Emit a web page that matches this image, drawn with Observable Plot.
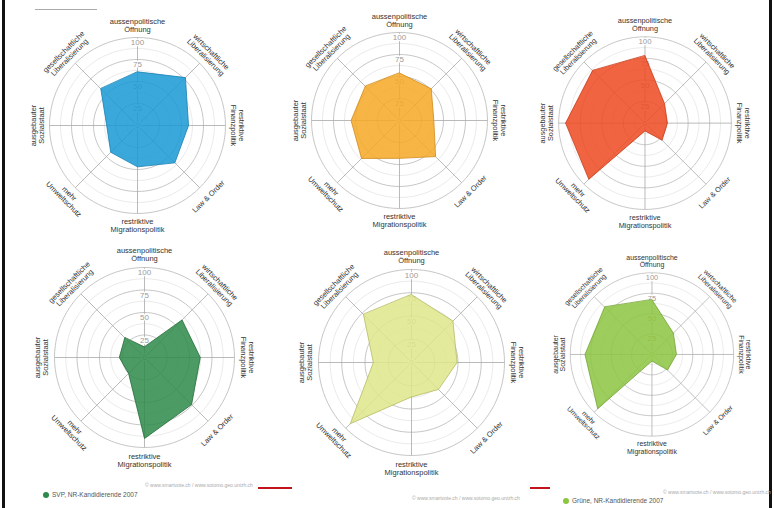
<!DOCTYPE html>
<html><head><meta charset="utf-8">
<script src="https://cdn.jsdelivr.net/npm/d3@7"></script>
<script src="https://cdn.jsdelivr.net/npm/@observablehq/plot@0.6"></script>
<style>
html,body{margin:0;padding:0;background:#fff}
body{width:774px;height:508px;overflow:hidden;position:relative;font-family:"Liberation Sans",Arial,sans-serif}
.chart{position:absolute}
.deco{position:absolute}
.copy{position:absolute;font-size:5px;color:#aaa;white-space:nowrap}
.legend{position:absolute;font-size:6.5px;color:#555;white-space:nowrap;display:flex;align-items:center}
.legend i{display:inline-block;width:6px;height:6px;border-radius:50%;margin-right:3px}
</style></head><body>
<script>
// ---- data ----
const axisNames = ["aussenpolitische\nÖffnung","wirtschaftliche\nLiberalisierung","restriktive\nFinanzpolitik","Law & Order","restriktive\nMigrationspolitik","mehr\nUmweltschutz","ausgebauter\nSozialstaat","gesellschaftliche\nLiberalisierung"];
const tickValues = [0, 25, 50, 75, 100];
const partyNames = ["FDP","CVP","SP","SVP","GLP","Grüne"];
const fdpValues    = [61, 77, 58, 60, 47, 43, 35, 59];
const cvpValues    = [54, 51, 39, 58, 43, 61, 55, 55];
const spValues     = [78, 32, 26, 28,  9, 92, 92, 86];
const svpValues    = [12, 59, 62, 74, 90, 25, 28, 31];
const glpValues    = [73, 63, 49, 41, 37, 93, 41, 73];
const grueneValues = [67, 37, 30, 27,  8, 94, 82, 82];
const partyFill   = ["#1b9ad6","#f6a928","#ee4b22","#2e8a4a","#dfe68a","#8dc541"];
const partyStroke = ["#177fb0","#d08a18","#c73a17","#226b38","#b5bb64","#6e9f2e"];

// ---- layout (pixels) ----
const layout = [
  {cx:137, cy:125, r:88},
  {cx:399, cy:120, r:88},
  {cx:647, cy:125, r:88},
  {cx:144, cy:357, r:90},
  {cx:411, cy:362, r:93},
  {cx:661, cy:363, r:88}
];
const W = 264, H = 250;
const labelRadius = 114;
const labelRotate = [0, 45, 90, -45, 0, 45, -90, -45];

const allValues = [fdpValues, cvpValues, spValues, svpValues, glpValues, grueneValues];
const ang = i => i * Math.PI / 4;

function circle(r) {
  const pts = [];
  for (let k = 0; k < 96; k++) {
    const a = k * 2 * Math.PI / 96;
    pts.push({r, x: r * Math.sin(a), y: r * Math.cos(a)});
  }
  return pts;
}

function spider(values, fill, stroke, L) {
  const k = L.r / 100; // px per unit
  const pts = values.map((v, i) => ({x: v * Math.sin(ang(i)), y: v * Math.cos(ang(i))}));
  const minor = [12.5, 37.5, 62.5, 87.5].flatMap(circle);
  const major = [25, 50, 75, 100].flatMap(circle);
  const spokes = axisNames.map((n, i) => ({x2: 100 * Math.sin(ang(i)), y2: 100 * Math.cos(ang(i))}));
  const labels = axisNames.map((n, i) => ({text: n, rot: labelRotate[i],
    x: labelRadius * Math.sin(ang(i)), y: labelRadius * Math.cos(ang(i))}));
  return Plot.plot({
    width: W, height: H, margin: 0,
    style: {background: "transparent", overflow: "visible", fontFamily: "Liberation Sans, Arial, sans-serif"},
    x: {domain: [-W / 2 / k, W / 2 / k], axis: null},
    y: {domain: [-H / 2 / k, H / 2 / k], axis: null},
    marks: [
      Plot.line(minor, {x: "x", y: "y", z: "r", curve: "linear-closed", stroke: "#dcdcdc", strokeWidth: 0.6}),
      Plot.line(major, {x: "x", y: "y", z: "r", curve: "linear-closed", stroke: "#b8b8b8", strokeWidth: 0.8}),
      Plot.link(spokes, {x1: () => 0, y1: () => 0, x2: "x2", y2: "y2", stroke: "#a8a8a8", strokeWidth: 0.8}),
      Plot.text(tickValues, {x: () => 0, y: d => d === 0 ? 0 : d - 6, text: d => String(d),
        fill: "#9a9a9a", fontSize: 8, stroke: "white", strokeWidth: 2.5, paintOrder: "stroke"}),
      Plot.line(pts, {x: "x", y: "y", curve: "linear-closed", fill: fill, fillOpacity: 0.86, stroke: stroke, strokeWidth: 0.8}),
      Plot.text(labels, {x: "x", y: "y", text: "text", rotate: "rot", fill: "#333", fontSize: 7.5,
        lineHeight: 1.05, textAnchor: "middle", lineAnchor: "middle"})
    ]
  });
}

allValues.forEach((vals, i) => {
  const L = layout[i];
  const div = document.createElement("div");
  div.className = "chart";
  div.style.left = (L.cx - W / 2) + "px";
  div.style.top = (L.cy - H / 2) + "px";
  div.appendChild(spider(vals, partyFill[i], partyStroke[i], L));
  document.body.appendChild(div);
});

// decorations
function box(left, top, w, h, color) {
  const d = document.createElement("div");
  d.className = "deco";
  Object.assign(d.style, {left: left + "px", top: top + "px", width: w + "px", height: h + "px", background: color});
  document.body.appendChild(d);
}
box(2, 0, 3, 508, "#111");
box(769, 0, 3, 508, "#111");
box(35, 9, 62, 1, "#aaa");
box(258, 487, 34, 2, "#c4141b");
box(530, 487, 20, 2, "#c4141b");

const copyText = "© www.smartvote.ch / www.sotomo.geo.unizh.ch";
[[145, 482], [412, 495], [663, 489]].forEach(([l, t]) => {
  const d = document.createElement("div");
  d.className = "copy"; d.textContent = copyText;
  d.style.left = l + "px"; d.style.top = t + "px";
  document.body.appendChild(d);
});
[[43, 491, 3, "SVP, NR-Kandidierende 2007"], [563, 497, 5, "Grüne, NR-Kandidierende 2007"]].forEach(([l, t, pi, txt]) => {
  const d = document.createElement("div");
  d.className = "legend";
  d.style.left = l + "px"; d.style.top = t + "px";
  d.innerHTML = `<i style="background:${partyFill[pi]}"></i>`;
  d.appendChild(document.createTextNode(txt));
  document.body.appendChild(d);
});
</script>
</body></html>
